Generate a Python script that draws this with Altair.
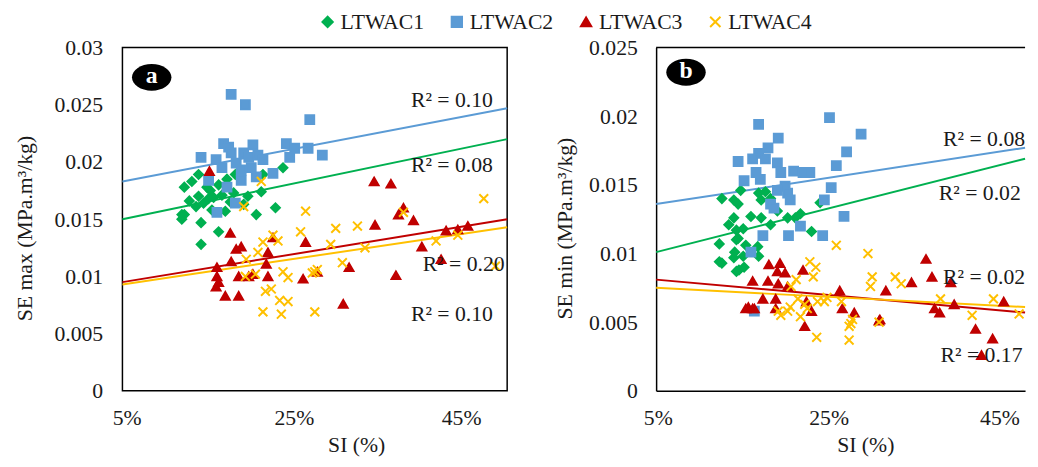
import altair as alt
import pandas as pd

FONT = "Liberation Serif"
TXT = "#1a1a1a"

series = ["LTWAC1", "LTWAC2", "LTWAC3", "LTWAC4"]
colors = ["#00B050", "#5B9BD5", "#C00000", "#FFC000"]
shapes = ["diamond", "square", "triangle-up", "M-1,-1L1,1M-1,1L1,-1"]

# ---------------- panel a : SE max ----------------
a1_si = [23.7, 13.6, 12.8, 11.9, 14.6, 18.0, 21.3, 21.1, 13.6, 14.2, 15.4, 16.4, 17.4, 17.8, 22.8, 19.0,
         11.9, 16.8, 20.5, 11.6, 11.6, 13.9, 16.0, 13.9, 13.3, 15.0, 16.0, 14.8, 12.5, 17.0, 19.5, 15.2]
a1_se = [0.0195, 0.0189, 0.0183, 0.0178, 0.0178, 0.0189, 0.0189, 0.0174, 0.0170, 0.0164, 0.0169, 0.0171,
         0.0165, 0.0173, 0.0160, 0.0163, 0.0154, 0.0157, 0.0154, 0.0150, 0.0154, 0.0147, 0.0139, 0.0128,
         0.0161, 0.0175, 0.0180, 0.0168, 0.0166, 0.0185, 0.0170, 0.0158]
a2_si = [17.5, 19.2, 26.9, 13.9, 16.6, 17.2, 17.5, 20.1, 19.0, 19.6, 20.7, 21.3, 15.7, 16.4, 18.1, 18.7,
         19.9, 20.5, 22.5, 24.1, 25.1, 26.7, 24.5, 28.4, 17.0, 18.7, 15.8, 18.0, 14.8]
a2_se = [0.0259, 0.0250, 0.0237, 0.0204, 0.0216, 0.0213, 0.0208, 0.0215, 0.0208, 0.0204, 0.0206, 0.0202,
         0.0202, 0.0195, 0.0199, 0.0193, 0.0195, 0.0187, 0.0190, 0.0216, 0.0212, 0.0212, 0.0204, 0.0206,
         0.0178, 0.0184, 0.0156, 0.0164, 0.0184]
a3_si = [14.9, 17.4, 18.1, 18.7, 17.5, 18.4, 15.8, 15.8, 16.0, 15.7, 16.8, 18.4, 21.9, 21.7, 21.9, 22.5,
         19.6, 20.1, 26.4, 26.1, 27.8, 34.6, 36.6, 38.1, 37.5, 39.3, 34.7, 40.3, 31.6, 37.2, 30.9, 43.2,
         44.6, 45.8, 42.6]
a3_se = [0.0192, 0.0138, 0.0124, 0.0126, 0.0113, 0.0100, 0.0108, 0.0100, 0.0095, 0.0091, 0.0083, 0.0083,
         0.0121, 0.0111, 0.0100, 0.0134, 0.0100, 0.0102, 0.0130, 0.0098, 0.0104, 0.0183, 0.0181, 0.0160,
         0.0154, 0.0149, 0.0145, 0.0126, 0.0108, 0.0101, 0.0076, 0.0140, 0.0141, 0.0144, 0.0115]
a4_si = [21.1, 19.0, 26.4, 25.8, 22.5, 21.3, 23.1, 20.7, 19.3, 19.2, 20.4, 23.7, 24.3, 27.5, 21.6, 22.3,
         23.3, 24.3, 21.3, 23.5, 27.5, 47.7, 30.0, 32.6, 29.4, 33.5, 38.1, 42.0, 44.6, 30.8, 27.8, 27.2, 49.1]
a4_se = [0.0183, 0.0161, 0.0157, 0.0139, 0.0136, 0.0130, 0.0131, 0.0121, 0.0115, 0.0100, 0.0102, 0.0104,
         0.0099, 0.0104, 0.0087, 0.0089, 0.0079, 0.0078, 0.0069, 0.0067, 0.0069, 0.0168, 0.0142, 0.0144,
         0.0128, 0.0125, 0.0156, 0.0131, 0.0136, 0.0112, 0.0106, 0.0103, 0.0109]

a_trend_x = [4.5, 50.5]
a_trend = {"LTWAC1": [0.0150, 0.0220], "LTWAC2": [0.0183, 0.0247],
           "LTWAC3": [0.0095, 0.0150], "LTWAC4": [0.0093, 0.0143]}
a_r2_text = ["R² = 0.10", "R² = 0.08", "R² = 0.20", "R² = 0.10"]
a_r2_x = [48.8, 48.8, 50.2, 48.8]
a_r2_y = [0.0254, 0.0197, 0.0111, 0.0067]

# ---------------- panel b : SE min ----------------
b1_si = [14.7, 12.5, 13.9, 14.4, 16.8, 17.6, 17.1, 18.2, 24.0, 19.0, 13.9, 15.9, 17.1, 18.2, 20.2, 21.7,
         21.1, 13.3, 14.2, 15.0, 14.4, 23.0, 12.2, 15.3, 14.2, 14.0, 13.9, 15.0, 12.5, 14.5, 15.1, 16.8,
         16.7, 12.2, 14.2]
b1_se = [0.0146, 0.0140, 0.0139, 0.0136, 0.0144, 0.0145, 0.0139, 0.0140, 0.0137, 0.0131, 0.0126, 0.0127,
         0.0126, 0.0121, 0.0126, 0.0129, 0.0126, 0.0121, 0.0117, 0.0118, 0.0111, 0.0116, 0.0107, 0.0106,
         0.0110, 0.0101, 0.0097, 0.0098, 0.0093, 0.0088, 0.0090, 0.0098, 0.0105, 0.0094, 0.0087]
b2_si = [25.1, 28.8, 16.8, 19.1, 17.9, 16.8, 16.1, 14.4, 17.6, 19.0, 27.1, 25.9, 16.5, 19.4, 20.9, 22.0,
         22.8, 15.1, 17.0, 19.9, 19.0, 20.2, 20.5, 25.3, 24.5, 18.2, 18.6, 26.8, 17.3, 20.3, 24.3, 21.7,
         15.9, 16.3]
b2_se = [0.0199, 0.0187, 0.0194, 0.0184, 0.0177, 0.0173, 0.0169, 0.0167, 0.0169, 0.0166, 0.0174, 0.0164,
         0.0159, 0.0159, 0.0160, 0.0159, 0.0159, 0.0153, 0.0154, 0.0149, 0.0146, 0.0144, 0.0139, 0.0148,
         0.0139, 0.0136, 0.0133, 0.0127, 0.0113, 0.0113, 0.0113, 0.0120, 0.0101, 0.0058]
b3_si = [18.0, 19.3, 19.0, 19.9, 22.0, 16.1, 17.9, 19.1, 20.2, 17.3, 18.8, 22.4, 15.3, 16.1, 18.8, 23.0,
         26.3, 26.6, 28.0, 22.2, 31.0, 31.7, 36.4, 37.1, 39.3, 34.7, 37.4, 38.0, 39.7, 45.5, 42.2, 44.2,
         42.9, 30.9, 48.9, 15.6, 16.3]
b3_se = [0.0092, 0.0093, 0.0087, 0.0086, 0.0088, 0.0080, 0.0080, 0.0078, 0.0076, 0.0067, 0.0067, 0.0065,
         0.0060, 0.0060, 0.0060, 0.0058, 0.0073, 0.0060, 0.0057, 0.0047, 0.0052, 0.0073, 0.0096, 0.0083,
         0.0079, 0.0079, 0.0060, 0.0057, 0.0063, 0.0065, 0.0045, 0.0038, 0.0026, 0.0051, 0.0056, 0.0061,
         0.0060]
b4_si = [25.9, 29.6, 22.8, 23.5, 23.2, 21.2, 20.6, 30.1, 29.9, 21.4, 22.2, 23.7, 24.5, 24.8, 20.5, 19.4,
         21.7, 20.2, 26.5, 27.4, 27.8, 23.6, 27.4, 19.1, 22.5, 32.8, 33.5, 38.1, 41.8, 44.3, 47.3, 48.9,
         30.9, 27.6]
b4_se = [0.0106, 0.0100, 0.0094, 0.0090, 0.0083, 0.0081, 0.0076, 0.0083, 0.0076, 0.0067, 0.0063, 0.0065,
         0.0065, 0.0068, 0.0061, 0.0055, 0.0054, 0.0058, 0.0065, 0.0047, 0.0052, 0.0039, 0.0037, 0.0058,
         0.0060, 0.0083, 0.0078, 0.0067, 0.0055, 0.0067, 0.0056, 0.0054, 0.0050, 0.0049]

b_trend_x = [4.8, 48.0]
b_trend = {"LTWAC1": [0.0101, 0.0169], "LTWAC2": [0.0136, 0.0177],
           "LTWAC3": [0.0081, 0.0057], "LTWAC4": [0.0075, 0.0061]}
b_r2_text = ["R² = 0.08", "R² = 0.02", "R² = 0.02", "R² = 0.17"]
b_r2_x = [48.0, 47.5, 48.0, 47.7]
b_r2_y = [0.0183, 0.0144, 0.0083, 0.0026]

badge_text = ["a", "b"]
badge_x = [8.0, 8.3]
badge_y = [0.0274, 0.0232]

y_ticks_a = [0, 0.005, 0.01, 0.015, 0.02, 0.025, 0.03]
y_ticks_b = [0, 0.005, 0.01, 0.015, 0.02, 0.025]
x_ticks = [5, 25, 45]


def points_df(groups):
    rows = []
    for s, (xs, ys) in zip(series, groups):
        for x, y in zip(xs, ys):
            rows.append({"Series": s, "SI": x, "SE": y})
    return pd.DataFrame(rows)


def trend_df(xs, trend):
    rows = []
    for s in series:
        for x, y in zip(xs, trend[s]):
            rows.append({"Series": s, "SI": x, "SE": y})
    return pd.DataFrame(rows)


ELLIPSE = "M-1,0A1,0.68,0,1,0,1,0A1,0.68,0,1,0,-1,0Z"


def panel(pts, trend, r2_text, r2_x, r2_y, bidx, xdom, ydom, yvals, ytitle, width,
          title_pad, label_pad, boxed, legend, xtitle_x):
    axis_common = dict(ticks=False, grid=False, domain=not boxed, domainColor="black", domainWidth=1.5,
                       labelFont=FONT, labelFontSize=22, labelColor=TXT,
                       titleFont=FONT, titleFontSize=22, titleColor=TXT, titleFontWeight="normal")
    X = alt.X("SI:Q", title="SI (%)",
              scale=alt.Scale(domain=xdom, nice=False, zero=False),
              axis=alt.Axis(values=x_ticks, labelExpr="datum.value + '%'", labelPadding=17,
                            labelFlush=False, titlePadding=6, titleX=xtitle_x, **axis_common))
    Y = alt.Y("SE:Q", title=ytitle,
              scale=alt.Scale(domain=ydom, nice=False, zero=True),
              axis=alt.Axis(values=yvals, format="~g", labelPadding=label_pad,
                            titlePadding=title_pad, titleY=183, **axis_common))
    enc_scale_fill = alt.Scale(domain=series, range=colors)
    enc_scale_shape = alt.Scale(domain=series, range=shapes)
    if legend:
        leg = alt.Legend(orient="none", legendX=197, legendY=-37, direction="horizontal", title=None,
                         padding=0, labelFont=FONT, labelFontSize=22, labelColor=TXT, symbolSize=110,
                         symbolStrokeWidth=2, labelOffset=2, columnPadding=22)
    else:
        leg = None
    layers = []
    for s, c in zip(series, colors):
        layers.append(
            alt.Chart(trend).transform_filter(alt.datum.Series == s)
            .mark_line(color=c, strokeWidth=2).encode(x=X, y=Y)
        )
    layers.append(
        alt.Chart(pts).mark_point(filled=True, opacity=1, size=80, strokeWidth=2, clip=True).encode(
            x=X, y=Y,
            fill=alt.Fill("Series:N", scale=enc_scale_fill, legend=leg),
            stroke=alt.Stroke("Series:N", scale=enc_scale_fill, legend=leg),
            shape=alt.Shape("Series:N", scale=enc_scale_shape, legend=leg),
        )
    )
    r2 = pd.DataFrame({"label": r2_text, "SI": r2_x, "SE": r2_y})
    layers.append(
        alt.Chart(r2).mark_text(align="right", baseline="middle", font=FONT, fontSize=22, color=TXT)
        .encode(x=X, y=Y, text="label:N")
    )
    bd = pd.DataFrame({"label": [badge_text[bidx]], "SI": [badge_x[bidx]], "SE": [badge_y[bidx]]})
    layers.append(
        alt.Chart(bd).mark_point(shape=ELLIPSE, filled=True, color="black", size=1600, opacity=1)
        .encode(x=X, y=Y)
    )
    layers.append(
        alt.Chart(bd).mark_text(font=FONT, fontSize=24, fontWeight="bold", color="white",
                                baseline="middle", align="center", dy=-1)
        .encode(x=X, y=Y, text="label:N")
    )
    if not boxed:
        layers.append(
            alt.Chart(bd).mark_rule(color="black", strokeWidth=1.5)
            .encode(x=alt.value(0), x2=alt.value(width), y=alt.value(0))
        )
    ch = alt.layer(*layers).properties(
        width=width, height=348,
        view=alt.ViewBackground(stroke="black" if boxed else "transparent", strokeWidth=1.5),
    )
    return ch


pa = panel(points_df([(a1_si, a1_se), (a2_si, a2_se), (a3_si, a3_se), (a4_si, a4_se)]),
           trend_df(a_trend_x, a_trend), a_r2_text, a_r2_x, a_r2_y, 0,
           [4.5, 50.5], [0, 0.03], y_ticks_a, "SE max (MPa.m³/kg)", 390, 18, 20, True, True, 237)
pb = panel(points_df([(b1_si, b1_se), (b2_si, b2_se), (b3_si, b3_se), (b4_si, b4_se)]),
           trend_df(b_trend_x, b_trend), b_r2_text, b_r2_x, b_r2_y, 1,
           [4.8, 48.0], [0, 0.025], y_ticks_b, "SE min (MPa.m³/kg)", 374, 12, 19, False, False, 212)

chart = (
    alt.hconcat(pa, pb, spacing=41)
    .resolve_scale(x="independent", y="independent", fill="shared", stroke="shared", shape="shared")
    .properties(padding={"left": 4, "top": 0, "right": 0, "bottom": 0}, background="white")
)

chart.save("out.html", embed_options={"renderer": "svg", "actions": False})
